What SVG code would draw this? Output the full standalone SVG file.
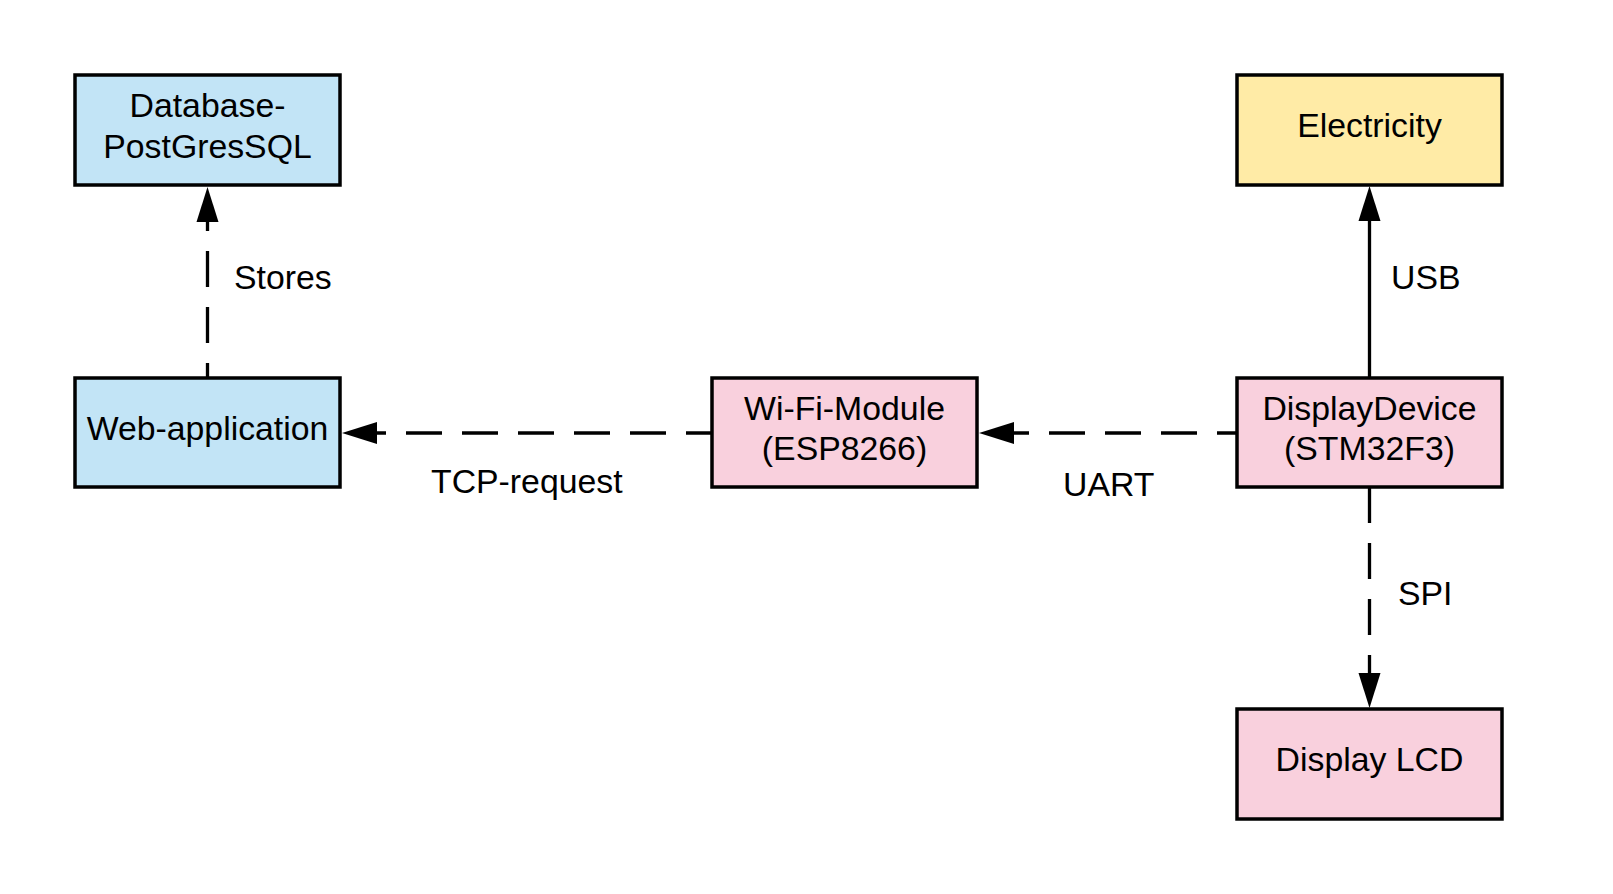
<svg xmlns="http://www.w3.org/2000/svg" width="1613" height="894" viewBox="0 0 1613 894">
<style>
.box{stroke:#000;stroke-width:3.5}
.blue{fill:#c2e4f6}
.pink{fill:#f9d0dd}
.yellow{fill:#ffeba6}
text{font-family:"Liberation Sans",Arial,sans-serif;font-size:33.8px;fill:#000}
.c{text-anchor:middle}
.ln{stroke:#000;stroke-width:3.3;fill:none}
.dash{stroke-dasharray:36 20}
</style>
<defs>
<marker id="ah" markerUnits="userSpaceOnUse" markerWidth="40" markerHeight="24" viewBox="0 -12 36 24" refX="0" refY="0" orient="auto" overflow="visible">
<path d="M0,-11 L35,0 L0,11 Z" fill="#000"/>
</marker>
</defs>
<rect width="1613" height="894" fill="#fff"/>
<g id="connectors">
<line class="ln dash" x1="207.5" y1="377" x2="207.5" y2="222" stroke-dashoffset="22" marker-end="url(#ah)"/>
<line class="ln dash" x1="712" y1="433" x2="377" y2="433" stroke-dashoffset="10" marker-end="url(#ah)"/>
<line class="ln dash" x1="1236" y1="433" x2="1014" y2="433" stroke-dashoffset="17" marker-end="url(#ah)"/>
<line class="ln" x1="1369.5" y1="377" x2="1369.5" y2="221" marker-end="url(#ah)"/>
<line class="ln dash" x1="1369.5" y1="487" x2="1369.5" y2="673" stroke-dashoffset="0" marker-end="url(#ah)"/>
<text x="234" y="289">Stores</text>
<text x="1391" y="289">USB</text>
<text x="431" y="493">TCP-request</text>
<text x="1063" y="496">UART</text>
<text x="1398" y="605">SPI</text>
</g>
<g id="database">
<rect class="box blue" x="75" y="75" width="265" height="110"/>
<text class="c" x="207.5" y="117">Database-</text>
<text class="c" x="207.5" y="158">PostGresSQL</text>
</g>
<g id="webapp">
<rect class="box blue" x="75" y="378" width="265" height="109"/>
<text class="c" x="207.5" y="440">Web-application</text>
</g>
<g id="wifi">
<rect class="box pink" x="712" y="378" width="265" height="109"/>
<text class="c" x="844.5" y="420">Wi-Fi-Module</text>
<text class="c" x="844.5" y="460">(ESP8266)</text>
</g>
<g id="displaydevice">
<rect class="box pink" x="1237" y="378" width="265" height="109"/>
<text class="c" x="1369.5" y="420">DisplayDevice</text>
<text class="c" x="1369.5" y="460">(STM32F3)</text>
</g>
<g id="electricity">
<rect class="box yellow" x="1237" y="75" width="265" height="110"/>
<text class="c" x="1369.5" y="137">Electricity</text>
</g>
<g id="lcd">
<rect class="box pink" x="1237" y="709" width="265" height="110"/>
<text class="c" x="1369.5" y="771">Display LCD</text>
</g>
</svg>
